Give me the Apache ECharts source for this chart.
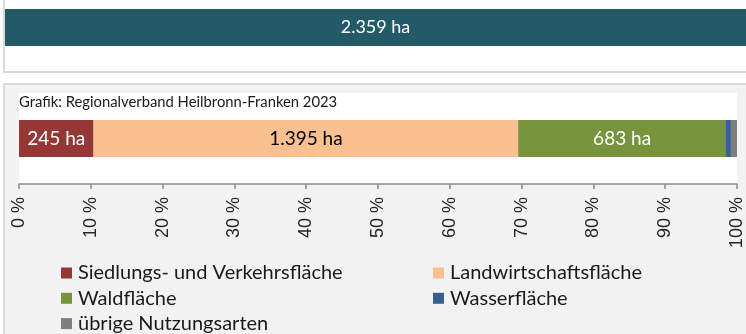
<!DOCTYPE html>
<html>
<head>
<meta charset="utf-8">
<script src="https://cdn.jsdelivr.net/npm/echarts@6/dist/echarts.min.js"></script>
<style>
  html, body { margin: 0; padding: 0; background: #ffffff; }
  #chart { width: 746px; height: 334px; }
</style>
</head>
<body>
<div id="chart"></div>
<script>
// Flächennutzung (ha)
const totalLabel = ['Gesamtfläche'];
const totalArea = [2359];

const landUseCategories = [
  'Siedlungs- und Verkehrsfläche',
  'Landwirtschaftsfläche',
  'Waldfläche',
  'Wasserfläche',
  'übrige Nutzungsarten'
];
const landUseArea = [245, 1395, 683, 16, 20];

const percentTicks = [0, 10, 20, 30, 40, 50, 60, 70, 80, 90, 100];
const sourceNote = 'Grafik: Regionalverband Heilbronn-Franken 2023';

const colors = ['#953735', '#fac090', '#77933c', '#376092', '#7f7f7f'];
const labelColors = ['#ffffff', '#000000', '#ffffff', '#ffffff', '#ffffff'];
const FONT = 'Lato, "Open Sans", sans-serif';

// German number format: 1.395
function fmt(v) {
  return String(Math.round(v)).replace(/\B(?=(\d{3})+(?!\d))/g, '.');
}

const areaSum = landUseArea.reduce((a, b) => a + b, 0);

const chart = echarts.init(document.getElementById('chart'), null, { renderer: 'canvas' });

const stackSeries = landUseCategories.map((name, i) => {
  const share = landUseArea[i] / areaSum * 100;
  return {
    name: name,
    type: 'bar',
    stack: 'flaeche',
    xAxisIndex: 1,
    yAxisIndex: 1,
    barWidth: 37,
    itemStyle: { color: colors[i] },
    label: {
      show: share > 5,
      position: 'inside',
      color: labelColors[i],
      fontFamily: FONT,
      fontSize: 19,
      formatter: () => fmt(landUseArea[i]) + ' ha'
    },
    emphasis: { disabled: true },
    data: [share]
  };
});

const legendBase = {
  orient: 'vertical', top: 263, height: 90, itemGap: 5.3, padding: 0,
  icon: 'rect', itemWidth: 11, itemHeight: 11,
  selectedMode: false,
  textStyle: { fontFamily: FONT, fontSize: 20, lineHeight: 19, color: '#1a1a1a', padding: [0, 0, 0, 1] }
};

chart.setOption({
  animation: false,
  backgroundColor: '#ffffff',
  graphic: [
    {
      type: 'rect', z: -10, silent: true,
      shape: { x: 4, y: -10, width: 760, height: 82 },
      style: { fill: '#ffffff', stroke: '#d9d9d9', lineWidth: 2 }
    },
    {
      type: 'rect', z: -10, silent: true,
      shape: { x: 4, y: 84, width: 760, height: 270 },
      style: { fill: '#f2f2f2', stroke: '#d9d9d9', lineWidth: 2 }
    },
    {
      type: 'text', z: 10, silent: true,
      left: 19, top: 95,
      style: { text: sourceNote, fill: '#1a1a1a', font: '14.8px ' + FONT }
    }
  ],
  grid: [
    { left: 5, top: 9, width: 747, height: 37, containLabel: false },
    {
      left: 19, top: 93, width: 719, height: 91,
      show: true, backgroundColor: '#ffffff', borderWidth: 0
    }
  ],
  xAxis: [
    { gridIndex: 0, type: 'value', min: 0, max: totalArea[0], show: false },
    {
      gridIndex: 1, type: 'value', min: 0, max: 100, interval: 10,
      position: 'bottom',
      axisLine: { show: true, lineStyle: { color: '#8c8c8c', width: 1.5 } },
      axisTick: { show: true, length: 5, lineStyle: { color: '#8c8c8c', width: 1.5 } },
      splitLine: { show: false },
      axisLabel: {
        rotate: 90,
        margin: 13,
        color: '#262626',
        fontFamily: '"Liberation Sans", Arial, sans-serif',
        fontSize: 18,
        showMinLabel: true,
        showMaxLabel: true,
        formatter: v => (percentTicks.includes(v) ? v + ' %' : '')
      }
    }
  ],
  yAxis: [
    { gridIndex: 0, type: 'category', data: totalLabel, show: false },
    { gridIndex: 1, type: 'category', data: ['Nutzung'], show: false }
  ],
  legend: [
    Object.assign({}, legendBase, {
      data: [landUseCategories[0], landUseCategories[2], landUseCategories[4]],
      left: 61
    }),
    Object.assign({}, legendBase, {
      data: [landUseCategories[1], landUseCategories[3]],
      left: 433
    })
  ],
  series: [
    {
      name: 'Gesamtfläche',
      type: 'bar',
      xAxisIndex: 0,
      yAxisIndex: 0,
      barWidth: '100%',
      itemStyle: { color: '#235a68' },
      label: {
        show: true,
        position: 'inside',
        color: '#ffffff',
        fontFamily: FONT,
        fontSize: 18,
        formatter: p => fmt(p.value) + ' ha'
      },
      emphasis: { disabled: true },
      data: totalArea
    }
  ].concat(stackSeries)
});
</script>
</body>
</html>
